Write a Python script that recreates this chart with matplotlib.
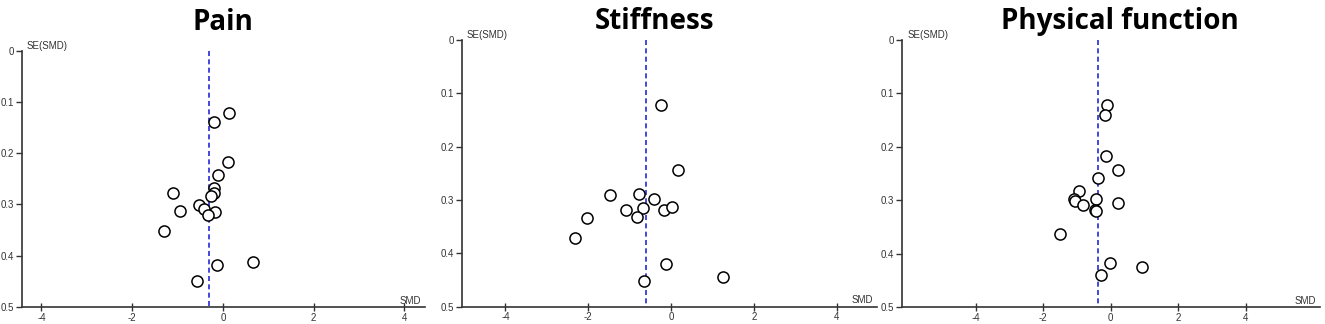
import matplotlib
matplotlib.use("Agg")
from matplotlib import pyplot as plt

plt.rcParams["axes.unicode_minus"] = False
plt.rcParams["font.family"] = ["Liberation Sans", "DejaVu Sans"]

# funnel plot data: SMD (x) and SE(SMD) (y) per study
pain_smd = [0.14, -0.19, 0.11, -0.11, -0.19, -0.20, -0.27, -1.11, -0.53, -0.41,
            -0.94, -0.18, -0.33, -1.30, 0.67, -0.13, -0.58]
pain_se = [0.121, 0.140, 0.218, 0.242, 0.268, 0.278, 0.284, 0.277, 0.301, 0.308,
           0.312, 0.314, 0.321, 0.352, 0.413, 0.419, 0.449]
pain_pooled = -0.30

stiff_smd = [-0.24, 0.17, -1.48, -0.77, -0.42, -1.10, -0.68, -0.16, 0.02, -0.82,
             -2.04, -2.31, -0.13, 1.26, -0.66]
stiff_se = [0.121, 0.243, 0.291, 0.288, 0.298, 0.318, 0.315, 0.318, 0.313, 0.331,
            0.334, 0.372, 0.419, 0.444, 0.452]
stiff_pooled = -0.61

phys_smd = [-0.11, -0.18, -0.14, 0.22, -0.39, -0.95, -1.08, -1.06, -0.83, -0.43,
            0.22, -0.45, -0.43, -1.51, -0.01, 0.93, -0.30]
phys_se = [0.121, 0.140, 0.218, 0.243, 0.258, 0.282, 0.298, 0.301, 0.309, 0.298,
           0.306, 0.319, 0.321, 0.364, 0.418, 0.426, 0.441]
phys_pooled = -0.39

titles = ["Pain", "Stiffness", "Physical function"]
xticks = [-4, -2, 0, 2, 4]
yticks = [0, 0.1, 0.2, 0.3, 0.4, 0.5]
ytick_labels = ["0", "0.1", "0.2", "0.3", "0.4", "0.5"]

panels = [
    (pain_smd, pain_se, pain_pooled, (-4.43, 4.46), [0.0166, 0.0525, 0.3042, 0.791], (0.168, 0.93)),
    (stiff_smd, stiff_se, stiff_pooled, (-5.05, 4.97), [0.3487, 0.0534, 0.3130, 0.823], (0.494, 0.935)),
    (phys_smd, phys_se, phys_pooled, (-6.18, 6.2), [0.6808, 0.0525, 0.3154, 0.824], (0.845, 0.935)),
]

fig = plt.figure(figsize=(13.25, 3.24), dpi=100)

for (smd, se, pooled, xlim, pos, tpos), title in zip(panels, titles):
    ax = fig.add_axes(pos)
    ax.plot(smd, se, "o", mfc="white", mec="black", ms=8, mew=1.1, zorder=3)
    ax.plot([pooled, pooled], [0, 0.5], color="#2828d8", lw=1.2, ls=(0, (3, 2)), zorder=2)
    ax.set_xlim(*xlim)
    ax.set_ylim(0.5, 0)
    ax.set_xticks(xticks)
    ax.set_yticks(yticks)
    ax.set_yticklabels(ytick_labels)
    for s in ["top", "right"]:
        ax.spines[s].set_visible(False)
    for s in ["left", "bottom"]:
        ax.spines[s].set_color("#333333")
        ax.spines[s].set_linewidth(1.2)
    ax.tick_params(axis="x", direction="inout", length=6, width=1, colors="#333333",
                   labelsize=7, pad=1)
    ax.tick_params(axis="y", direction="out", length=4, width=1, colors="#333333",
                   labelsize=7, pad=2)
    ax.text(0.012, 1.0, "SE(SMD)", transform=ax.transAxes, fontsize=7,
            color="#333333", va="bottom", ha="left")
    ax.text(0.99, 0.005, "SMD", transform=ax.transAxes, fontsize=7,
            color="#333333", va="bottom", ha="right")
    fig.text(tpos[0], tpos[1], title, fontsize=20, fontweight="bold",
             ha="center", va="center", family=["Open Sans", "DejaVu Sans"])

fig.savefig("out.png", dpi=100)
